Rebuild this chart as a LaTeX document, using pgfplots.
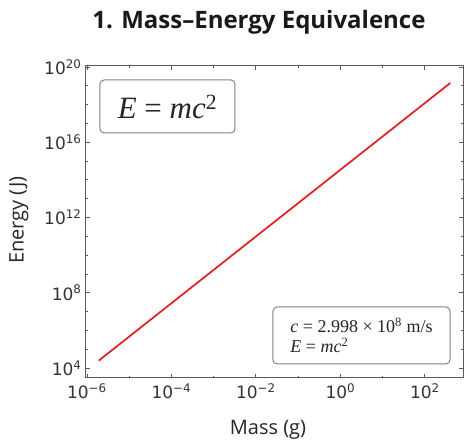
\documentclass[border=0pt]{standalone}
\usepackage{fontspec}
\setmainfont{Open Sans}
\newfontfamily\tickfont{DejaVu Sans}
\newfontfamily\seriffont{Liberation Serif}
\usepackage{pgfplots}
\pgfplotsset{compat=1.18}

\definecolor{linered}{RGB}{224,38,38}
\definecolor{framegray}{RGB}{90,90,90}
\definecolor{boxgray}{RGB}{130,130,130}

\begin{document}
\begin{tikzpicture}[x=1pt,y=1pt]
  \begin{axis}[
    at={(0,0)}, anchor=south west,
    scale only axis,
    width=377pt, height=312pt,
    xmode=log, ymode=log,
    log basis x=10, log basis y=10,
    xmin=9.5e-7, xmax=8.0e2,
    ymin=3.0e3, ymax=1.12e20,
    xtick={1e-6,1e-4,1e-2,1,1e2},
    xticklabels={10\textsuperscript{−6},10\textsuperscript{−4},10\textsuperscript{−2},10\textsuperscript{0},10\textsuperscript{2}},
    minor xtick={1e-5,1e-3,1e-1,1e1},
    ytick={1e4,1e8,1e12,1e16,1e20},
    yticklabels={10\textsuperscript{4},10\textsuperscript{8},10\textsuperscript{12},10\textsuperscript{16},10\textsuperscript{20}},
    minor ytick={1e5,1e6,1e7,1e9,1e10,1e11,1e13,1e14,1e15,1e17,1e18,1e19},
    tick label style={font=\fontsize{17}{19}\selectfont\tickfont, text=black!80},
    xticklabel style={yshift=-2pt},
    yticklabel style={xshift=-1pt},
    axis line style={framegray, line width=1pt},
    major tick length=4pt,
    minor tick length=2pt,
    tick style={framegray, line width=0.8pt},
    clip=false,
  ]
    \addplot[linered, line width=1.8pt] coordinates {
      (1.9e-6, 2.5e4) (400, 1.4e19)
    };
  \end{axis}

  % title and axis labels
  \node[font=\fontsize{24}{28}\selectfont\bfseries, text=black!90] at (173,356) {1. Mass–Energy Equivalence};
  \node[font=\fontsize{20}{24}\selectfont, text=black!85] at (182,-52) {Mass (g)};
  \node[font=\fontsize{20}{24}\selectfont, text=black!85, rotate=90] at (-67,158) {Energy (J)};

  % text boxes
  \node[draw=boxgray, line width=1pt, rounded corners=4pt, fill=white,
        minimum width=135pt, minimum height=53pt, inner sep=0pt,
        font=\fontsize{31}{34}\selectfont\seriffont, text=black!85] at (81.5,271.5)
        {\textit{E}\hspace{0.25em}=\hspace{0.25em}\textit{mc}\textsuperscript{2}};
  \node[draw=boxgray, line width=1pt, rounded corners=4pt, fill=white,
        minimum width=177pt, minimum height=57pt, inner sep=0pt,
        font=\fontsize{18}{20}\selectfont\seriffont, text=black!85, align=left] at (275.5,42.5)
        {\textit{c} = 2.998 × 10\textsuperscript{8} m/s\\ \textit{E} = \textit{mc}\textsuperscript{2}};

  \path[use as bounding box] (-86,-65) rectangle (381,378);
\end{tikzpicture}
\end{document}
